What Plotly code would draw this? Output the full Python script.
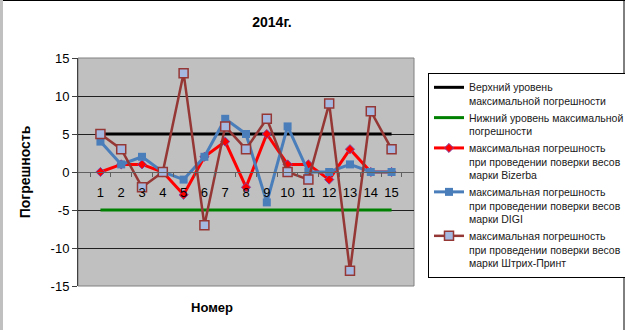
import plotly.graph_objects as go

categories = [str(i) for i in range(1, 16)]
upper_level = [5] * 15
lower_level = [-5] * 15
bizerba = [0, 1, 1, 0, -3, 2, 4, -2, 5, 1, 1, -1, 3, 0, 0]
digi = [4, 1, 2, 0, -1, 2, 7, 5, -4, 6, 0, 0, 1, 0, 0]
shtrih = [5, 3, -2, 0, 13, -7, 6, 3, 7, 0, -1, 9, -13, 8, 3]
y_tick_values = [-15, -10, -5, 0, 5, 10, 15]
y_tick_labels = ["-15", "-10", "-5", "0", "5", "10", "15"]

names = [
    "Верхний уровень<br>максимальной погрешности",
    "Нижний уровень максимальной<br>погрешности",
    "максимальная погрешность<br>при проведении поверки весов<br>марки Bizerba",
    "максимальная погрешность<br>при проведении поверки весов<br>марки DIGI",
    "максимальная погрешность<br>при проведении поверки весов<br>марки Штрих-Принт",
]

FONT = "Liberation Sans, Arial, sans-serif"

fig = go.Figure()
fig.add_trace(go.Scatter(x=categories, y=upper_level, name=names[0], mode="lines",
                         line=dict(color="black", width=3), legendgroup="a"))
fig.add_trace(go.Scatter(x=categories, y=lower_level, name=names[1], mode="lines",
                         line=dict(color="#008000", width=3), legendgroup="b"))
fig.add_trace(go.Scatter(x=categories, y=bizerba, name=names[2], mode="lines+markers",
                         line=dict(color="#FF0000", width=3),
                         marker=dict(symbol="diamond", size=7, color="#FF0000",
                                     line=dict(color="#8040A0", width=1)),
                         legendgroup="c"))
fig.add_trace(go.Scatter(x=categories, y=digi, name=names[3], mode="lines+markers",
                         line=dict(color="#4A7EBB", width=3),
                         marker=dict(symbol="square", size=8, color="#4A7EBB"),
                         legendgroup="d"))
fig.add_trace(go.Scatter(x=categories, y=shtrih, name=names[4], mode="lines+markers",
                         line=dict(color="#953735", width=2.5),
                         marker=dict(symbol="square", size=9, color="#A5B8E0",
                                     line=dict(color="#953735", width=1.5)),
                         legendgroup="e"))

L, R, T, B = 78, 211, 58, 44
pw = 625 - L - R
ph = 330 - T - B


def px_x(p):
    return (p - L) / pw


def px_y(p):
    return (330 - B - p) / ph


fig.update_layout(
    width=625, height=330,
    margin=dict(l=L, r=R, t=T, b=B, autoexpand=False),
    paper_bgcolor="white",
    plot_bgcolor="#C0C0C0",
    font=dict(family=FONT, color="black"),
    title=dict(text="<b>2014г.</b>", x=272 / 625, xanchor="center", y=1 - 22.5 / 330,
               yanchor="middle", font=dict(size=14, family=FONT, color="black")),
    showlegend=True,
    legend=dict(x=px_x(428), y=px_y(73), xanchor="left", yanchor="top",
                bgcolor="white", bordercolor="black", borderwidth=1,
                font=dict(size=10.5, family=FONT, color="#202020"),
                valign="top", tracegroupgap=9, traceorder="normal"),
    xaxis=dict(type="category", anchor="free", position=0.5, showline=True,
               linecolor="#606060", linewidth=1, ticks="outside", ticklen=4,
               tickcolor="#606060", tickson="boundaries", showgrid=False,
               tickangle=0, ticklabelstandoff=8,
               tickfont=dict(size=13, family=FONT, color="black"), zeroline=False),
    yaxis=dict(range=[-15, 15], tickvals=y_tick_values, ticktext=y_tick_labels,
               showgrid=True, gridcolor="#202020",
               gridwidth=1, zeroline=False, showline=True, linecolor="#404040",
               ticks="outside", ticklen=5, tickcolor="#404040",
               tickfont=dict(size=13, family=FONT, color="black"),
               title=dict(text="<b>Погрешность</b>", font=dict(size=14, family=FONT),
                          standoff=16)),
)

fig.add_annotation(text="<b>Номер</b>", xref="paper", yref="paper",
                   x=px_x(212), y=px_y(307), xanchor="center", yanchor="middle",
                   showarrow=False, font=dict(size=13, family=FONT, color="black"))

# plot-area border
fig.add_shape(type="rect", xref="paper", yref="paper", x0=0, x1=1, y0=0, y1=1,
              line=dict(color="#808080", width=1), layer="below")
# outer chart frame
fig.add_shape(type="line", xref="paper", yref="paper", x0=px_x(0), x1=px_x(625),
              y0=px_y(0.5), y1=px_y(0.5), line=dict(color="black", width=1))
fig.add_shape(type="line", xref="paper", yref="paper", x0=px_x(1.5), x1=px_x(1.5),
              y0=px_y(0), y1=px_y(330), line=dict(color="#C0C0C0", width=3))
fig.add_shape(type="line", xref="paper", yref="paper", x0=px_x(624), x1=px_x(624),
              y0=px_y(0), y1=px_y(330), line=dict(color="black", width=1))

fig.write_html("out.html", config={"displayModeBar": False},
               post_script="document.body.style.margin='0';document.body.style.overflow='hidden';")
